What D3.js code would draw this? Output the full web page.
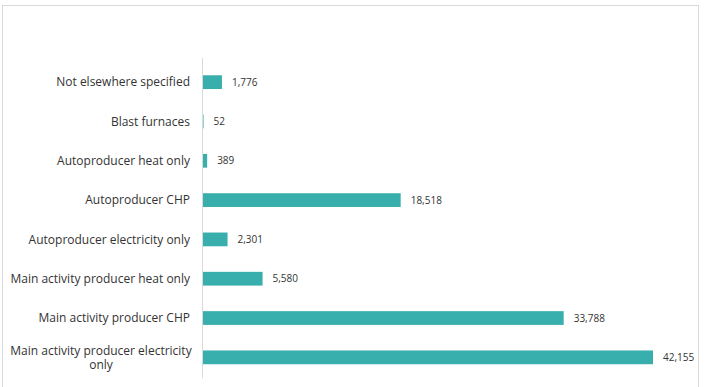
<!DOCTYPE html>
<html>
<head>
<meta charset="utf-8">
<script src="https://cdn.jsdelivr.net/npm/d3@7"></script>
<style>
  body { margin: 0; background: #fff; }
  text { font-family: "Open Sans", "Liberation Sans", sans-serif; fill: #333; }
</style>
</head>
<body>
<div id="chart"></div>
<script>
var categories = [
	"Not elsewhere specified",
	"Blast furnaces",
	"Autoproducer heat only",
	"Autoproducer CHP",
	"Autoproducer electricity only",
	"Main activity producer heat only",
	"Main activity producer CHP",
	"Main activity producer electricity only"
];
var values = [1776, 52, 389, 18518, 2301, 5580, 33788, 42155];
var wrapped = {
	"Main activity producer electricity only": ["Main activity producer electricity", "only"]
};

var svgWidth = 705,
	svgHeight = 387,
	plotLeft = 203,
	plotRight = 653,
	plotTop = 62.5,
	plotBottom = 377;

var svg = d3.select('#chart')
	.append('svg')
		.attr('width', svgWidth)
		.attr('height', svgHeight);

// outer frame
svg.append('rect')
	.attr('x', 2.5).attr('y', 5.5)
	.attr('width', 696).attr('height', 400)
	.attr('fill', 'none')
	.attr('stroke', '#d9d9d9');

var xscale = d3.scaleLinear()
	.domain([0, d3.max(values)])
	.range([plotLeft, plotRight]);

var yscale = d3.scaleBand()
	.domain(categories)
	.range([plotTop, plotBottom])
	.paddingInner(0.65)
	.paddingOuter(0.325);

svg.selectAll('rect.bar').data(values)
	.enter().append('rect')
		.attr('class', 'bar')
		.attr('x', xscale(0))
		.attr('y', function (d, i) { return yscale(categories[i]); })
		.attr('width', function (d) { return xscale(d) - xscale(0); })
		.attr('height', yscale.bandwidth())
		.style('fill', '#38afad');

// vertical axis line
svg.append('line')
	.attr('x1', plotLeft - 0.5).attr('x2', plotLeft - 0.5)
	.attr('y1', 58).attr('y2', 378)
	.attr('stroke', '#d9d9d9');

// value labels
svg.selectAll('text.val').data(values)
	.enter().append('text')
		.attr('class', 'val')
		.attr('x', function (d) { return xscale(d) + 10; })
		.attr('y', function (d, i) { return yscale(categories[i]) + yscale.bandwidth() / 2; })
		.attr('dy', '0.35em')
		.style('font-size', '10px')
		.text(function (d) { return d3.format(',')(d); });

// category labels
var labels = svg.selectAll('g.lab').data(categories)
	.enter().append('g')
		.attr('class', 'lab')
		.attr('transform', function (d) {
			return 'translate(0,' + (yscale(d) + yscale.bandwidth() / 2) + ')';
		});

labels.each(function (d) {
	var g = d3.select(this);
	if (wrapped[d]) {
		var lines = wrapped[d];
		lines.forEach(function (t, k) {
			g.append('text')
				.attr('x', 101)
				.attr('y', (k - (lines.length - 1) / 2) * 14)
				.attr('dy', '0.35em')
				.attr('text-anchor', 'middle')
				.style('font-size', '12px')
				.text(t);
		});
	} else {
		g.append('text')
			.attr('x', 190)
			.attr('dy', '0.35em')
			.attr('text-anchor', 'end')
			.style('font-size', '12px')
			.text(d);
	}
});
</script>
</body>
</html>
